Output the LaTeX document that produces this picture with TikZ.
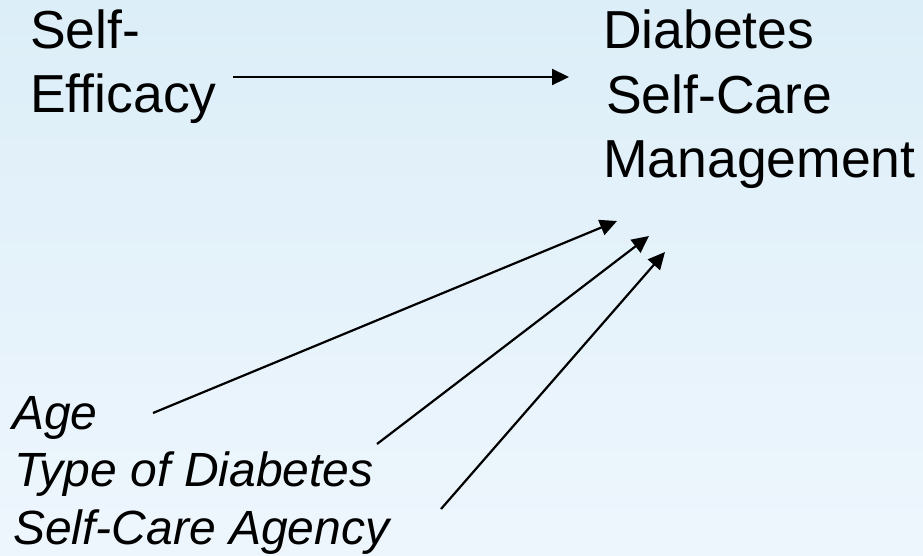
\documentclass[tikz,border=0pt]{standalone}
\usepackage{fontspec}
\setmainfont{Liberation Sans}
\usetikzlibrary{arrows.meta}
\definecolor{bgtop}{RGB}{220,238,248}
\definecolor{bgbot}{RGB}{238,246,253}
\tikzset{
  big/.style={anchor=base west, inner sep=0pt, font=\fontsize{53.5}{64}\selectfont},
  small/.style={anchor=base west, inner sep=0pt, font=\fontsize{48}{56}\selectfont\itshape},
  conn/.style={line width=2.2pt, -{Triangle[length=17pt,width=16pt]}}
}
\begin{document}
\begin{tikzpicture}[x=1pt,y=-1pt]
\shade[top color=bgtop, bottom color=bgbot] (0,0) rectangle (923,555);
\useasboundingbox (0,0) rectangle (923,555);
\node[big] (se1) at (30,48) {Self-};
\node[big] (se2) at (30,112) {Efficacy};
\node[big] (dm1) at (603,48) {Diabetes};
\node[big] (dm2) at (606,113) {Self-Care};
\node[big] (dm3) at (603,177) {Management};
\node[small] (age) at (12,429) {Age};
\node[small] (type) at (14,486) {Type of Diabetes};
\node[small] (agency) at (13,544) {Self-Care Agency};
\coordinate (a0) at (233,77);
\coordinate (a1) at (569,77);
\coordinate (b0) at (153,413);
\coordinate (b1) at (617,221);
\coordinate (c0) at (377,444);
\coordinate (c1) at (649,236);
\coordinate (d0) at (441,509);
\coordinate (d1) at (665,252);
\draw[conn] (a0) -- (a1);
\draw[conn] (b0) -- (b1);
\draw[conn] (c0) -- (c1);
\draw[conn] (d0) -- (d1);
\end{tikzpicture}
\end{document}
